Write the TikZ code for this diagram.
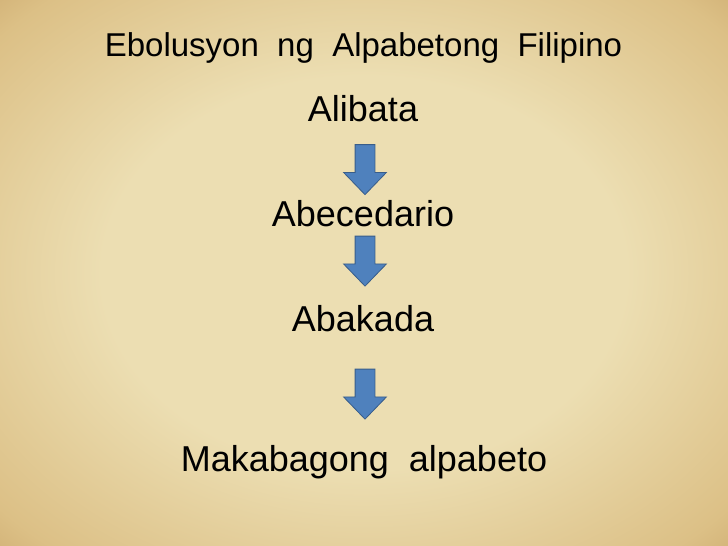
\documentclass[tikz,border=0pt]{standalone}
\usepackage{fontspec}
\setmainfont{Liberation Sans}
\usetikzlibrary{shapes.arrows}

\definecolor{paperlight}{RGB}{236,222,178}
\definecolor{papermid}{RGB}{220,192,134}
\definecolor{paperdark}{RGB}{184,140,78}
\definecolor{paperedge}{RGB}{140,98,48}
\definecolor{arrowfill}{RGB}{79,129,189}
\definecolor{arrowline}{RGB}{56,93,138}

\pgfdeclareradialshading{parchment}{\pgfpoint{0bp}{0bp}}{%
  color(0bp)=(paperlight); color(18bp)=(paperlight); color(33bp)=(papermid);
  color(45bp)=(paperdark); color(60bp)=(paperedge); color(75bp)=(paperedge)}

\begin{document}
\begin{tikzpicture}[x=1pt, y=-1pt,
		title/.style={anchor=base, inner sep=0pt, font=\fontsize{33}{37}\selectfont},
		stage/.style={anchor=base, inner sep=0pt, font=\fontsize{36}{40}\selectfont},
		blockarrow/.style={single arrow, rotate=-90, draw=arrowline, fill=arrowfill, line width=0.8pt,
			inner xsep=0pt, inner ysep=9.5pt, minimum height=50pt,
			single arrow head extend=11.5pt, single arrow tip angle=88}]
			\useasboundingbox (0,0) rectangle (728,546);
			\shade[shading=parchment] (0,0) rectangle (728,546);
			
			\node[title] (titel) at (363.5, 56) {Ebolusyon\ \ ng\ \ Alpabetong\ \ Filipino};
			
			\node[stage] (alibata) at (363, 121) {Alibata};
			\node[stage] (abecedario) at (363, 226) {Abecedario};
			\node[stage] (abakada) at (363, 331) {Abakada};
			\node[stage] (makabago) at (364, 471) {Makabagong\ \ alpabeto};
			
			\node[blockarrow] (arr1) at (365, 164.5) {};
			\node[blockarrow] (arr2) at (365, 256) {};
			\node[blockarrow] (arr3) at (365, 389) {};
			
		\end{tikzpicture}
\end{document}
